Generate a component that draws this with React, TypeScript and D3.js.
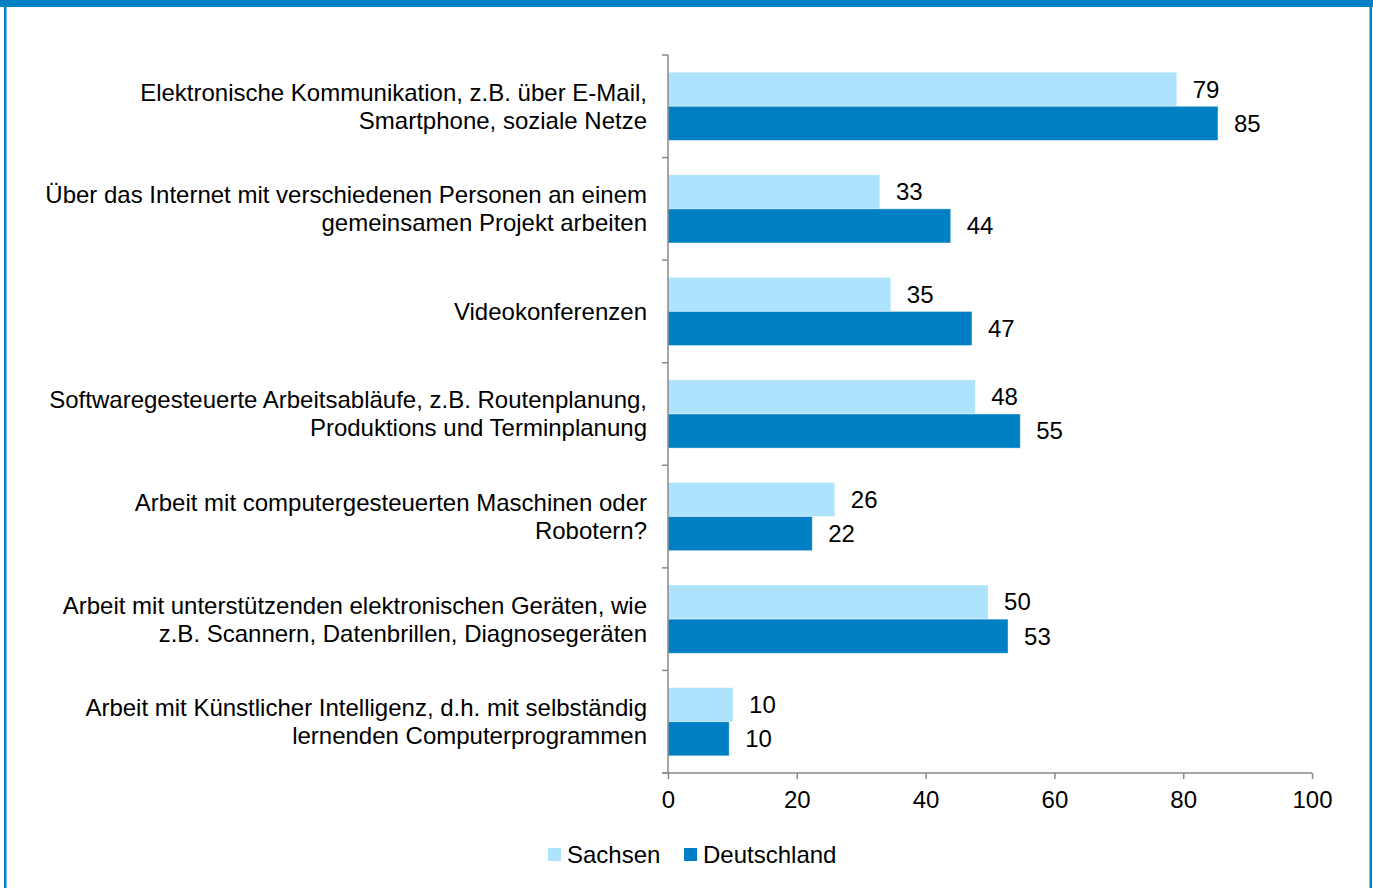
import { useEffect, useRef } from 'react';
import * as d3 from 'd3';

// ─── Daten ─────────────────────────────────────────────────────────────────
const categories: string[][] = [
  ['Elektronische Kommunikation, z.B. über E-Mail,', 'Smartphone, soziale Netze'],
  ['Über das Internet mit verschiedenen Personen an einem', 'gemeinsamen Projekt arbeiten'],
  ['Videokonferenzen'],
  ['Softwaregesteuerte Arbeitsabläufe, z.B. Routenplanung,', 'Produktions und Terminplanung'],
  ['Arbeit mit computergesteuerten Maschinen oder', 'Robotern?'],
  ['Arbeit mit unterstützenden elektronischen Geräten, wie', 'z.B. Scannern, Datenbrillen, Diagnosegeräten'],
  ['Arbeit mit Künstlicher Intelligenz, d.h. mit selbständig', 'lernenden Computerprogrammen'],
];
const sachsen = [79.0, 32.9, 34.6, 47.7, 25.9, 49.7, 10.1];
const deutschland = [85.4, 43.9, 47.2, 54.7, 22.4, 52.8, 9.5];
const seriesNames = ['Sachsen', 'Deutschland'];
const xTicks = [0, 20, 40, 60, 80, 100];

const COLORS = ['#ade3fd', '#0080c4'];
const FONT = 'Arial, "Liberation Sans", sans-serif';
const FS = 24;

export default function App() {
  const svgRef = useRef<SVGSVGElement>(null);

  useEffect(() => {
    if (!svgRef.current) return;
    document.body.style.margin = '0';

    const W = 1373;
    const H = 888;
    const m = { top: 55, left: 668, right: 61, bottom: 115 };
    const iW = W - m.left - m.right;
    const iH = H - m.top - m.bottom;

    const svg = d3.select(svgRef.current).attr('width', W).attr('height', H);
    svg.selectAll('*').remove();

    // ── Rahmen ───────────────────────────────────────────────────────────────
    svg.append('rect').attr('x', 0).attr('y', 0).attr('width', W).attr('height', 7).attr('fill', '#0080c4');
    svg.append('rect').attr('x', 4).attr('y', 0).attr('width', 2.5).attr('height', H).attr('fill', '#0080c4');
    svg.append('rect').attr('x', 1369.5).attr('y', 0).attr('width', 2.5).attr('height', H).attr('fill', '#0080c4');

    const g = svg.append('g').attr('transform', `translate(${m.left},${m.top})`);

    // ── Skalen ───────────────────────────────────────────────────────────────
    const x = d3.scaleLinear().domain([0, 100]).range([0, iW]);
    const y = d3.scaleBand<number>()
      .domain(d3.range(categories.length))
      .range([0, iH])
      .paddingInner(0.335)
      .paddingOuter(0.1675);
    const sub = d3.scaleBand<number>().domain([0, 1]).range([0, y.bandwidth()]);

    const series = [sachsen, deutschland];

    // ── Balken ───────────────────────────────────────────────────────────────
    series.forEach((vals, si) => {
      g.selectAll(`rect.s${si}`)
        .data(vals)
        .join('rect')
        .attr('class', `s${si}`)
        .attr('x', x(0))
        .attr('y', (_, i) => (y(i) ?? 0) + (sub(si) ?? 0))
        .attr('width', d => x(d) - x(0))
        .attr('height', sub.bandwidth())
        .attr('fill', COLORS[si])
        .attr('stroke', '#ffffff')
        .attr('stroke-opacity', 0.5)
        .attr('stroke-width', 0.8);

      g.selectAll(`text.l${si}`)
        .data(vals)
        .join('text')
        .attr('class', `l${si}`)
        .attr('x', d => x(d) + 16)
        .attr('y', (_, i) => (y(i) ?? 0) + (sub(si) ?? 0) + sub.bandwidth() / 2)
        .attr('dy', '0.35em')
        .attr('font-family', FONT)
        .attr('font-size', FS)
        .attr('fill', '#000')
        .text(d => Math.round(d));
    });

    // ── Y-Achse ──────────────────────────────────────────────────────────────
    const step = y.step();
    const yBounds = d3.range(categories.length + 1).map(i => i * step);
    g.append('line')
      .attr('x1', 0).attr('x2', 0).attr('y1', 0).attr('y2', iH)
      .attr('stroke', '#888').attr('stroke-width', 1.5);
    g.selectAll('line.yt')
      .data(yBounds)
      .join('line')
      .attr('class', 'yt')
      .attr('x1', -6).attr('x2', 0)
      .attr('y1', d => d).attr('y2', d => d)
      .attr('stroke', '#888').attr('stroke-width', 1.5);

    // Kategorien
    categories.forEach((lines, i) => {
      const cy = (y(i) ?? 0) + y.bandwidth() / 2;
      const lh = 28;
      const t = g.append('text')
        .attr('text-anchor', 'end')
        .attr('font-family', FONT)
        .attr('font-size', FS)
        .attr('fill', '#000');
      lines.forEach((ln, li) => {
        t.append('tspan')
          .attr('x', -21)
          .attr('y', cy + (li - (lines.length - 1) / 2) * lh)
          .attr('dy', '0.35em')
          .text(ln);
      });
    });

    // ── X-Achse ──────────────────────────────────────────────────────────────
    g.append('g')
      .attr('transform', `translate(0,${iH})`)
      .call(d3.axisBottom(x).tickValues(xTicks).tickSize(6).tickPadding(12).tickSizeOuter(0))
      .call(ax => ax.select('.domain').attr('stroke', '#888').attr('stroke-width', 1.5).attr('d', `M-6,0H${iW}`))
      .call(ax => ax.selectAll('line').attr('stroke', '#888').attr('stroke-width', 1.5))
      .call(ax => ax.selectAll('text')
        .attr('fill', '#000').attr('font-size', FS).attr('font-family', FONT));

    // ── Legende ──────────────────────────────────────────────────────────────
    const leg = svg.append('g').attr('transform', 'translate(548,855)');
    const legX = [0, 136];
    seriesNames.forEach((name, i) => {
      leg.append('rect')
        .attr('x', legX[i]).attr('y', -7)
        .attr('width', 13).attr('height', 13)
        .attr('fill', COLORS[i]);
      leg.append('text')
        .attr('x', legX[i] + 19)
        .attr('y', 0)
        .attr('dy', '0.35em')
        .attr('font-family', FONT)
        .attr('font-size', FS)
        .attr('fill', '#000')
        .text(name);
    });
  }, []);

  return (
    <div style={{ position: 'absolute', left: 0, top: 0, width: 1373, height: 888, background: '#fff' }}>
      <svg ref={svgRef} style={{ display: 'block' }} />
    </div>
  );
}
